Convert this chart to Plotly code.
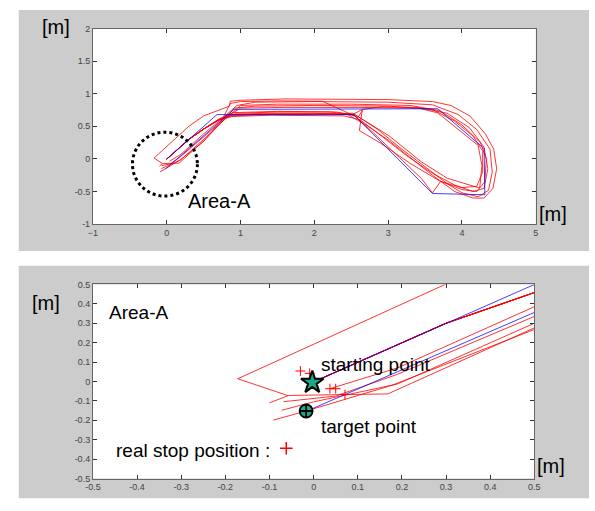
import plotly.graph_objects as go

# ---------------- data ----------------
blue_x = [-0.003, 0.68, 2.53, 3.60, 4.31, 4.30, 3.67, 0.91, -0.018]
blue_y = [-0.005, 0.68, 0.68, -0.53, -0.55, 0.16, 0.77, 0.76, -0.155]

run1_x = [-0.003, 0.30, 0.50, 0.70, 0.90, 1.30, 2.00, 2.45, 2.70, 3.00, 3.30, 3.60, 3.90, 4.15, 4.30, 4.42, 4.47, 4.43, 4.32, 4.11, 3.85, 3.60, 3.00, 2.35, 1.60, 1.00, 0.86, 0.85, 0.65, 0.50, 0.298, -0.172, -0.058, -0.100]
run1_y = [-0.005, 0.30, 0.458, 0.60, 0.68, 0.70, 0.70, 0.68, 0.52, 0.29, 0.02, -0.25, -0.50, -0.60, -0.60, -0.45, -0.15, 0.15, 0.38, 0.657, 0.82, 0.88, 0.91, 0.917, 0.92, 0.90, 0.885, 0.81, 0.73, 0.66, 0.50, 0.014, -0.073, -0.110]

run2_x = [-0.003, 0.30, 0.50, 0.72, 0.95, 1.50, 2.20, 2.55, 2.85, 3.15, 3.50, 3.80, 4.00, 4.22, 4.36, 4.41, 4.38, 4.20, 3.95, 3.60, 3.00, 2.00, 1.20, 0.95, 0.75, 0.50, 0.19, 0.06, 0.037]
run2_y = [-0.005, 0.30, 0.458, 0.61, 0.70, 0.72, 0.72, 0.68, 0.46, 0.18, -0.12, -0.38, -0.52, -0.58, -0.48, -0.20, 0.15, 0.45, 0.68, 0.83, 0.87, 0.88, 0.87, 0.82, 0.62, 0.385, 0.07, -0.02, -0.037]

run3_x = [-0.003, 0.30, 0.50, 0.68, 0.85, 1.30, 2.10, 2.52, 3.01, 3.45, 3.80, 4.11, 4.24, 4.27, 4.22, 3.89, 3.67, 3.41, 2.60, 1.60, 1.00, 0.82, 0.50, 0.19, 0.05, -0.068]
run3_y = [-0.005, 0.30, 0.458, 0.59, 0.66, 0.68, 0.69, 0.70, 0.356, -0.045, -0.296, -0.396, -0.447, -0.10, 0.206, 0.507, 0.707, 0.78, 0.79, 0.79, 0.78, 0.65, 0.335, 0.037, -0.075, -0.104]

run4_x = [-0.003, 0.30, 0.50, 0.70, 0.90, 1.40, 2.20, 2.52, 2.65, 2.61, 2.90, 3.30, 3.70, 4.00, 4.20, 4.31, 4.33, 4.25, 4.00, 3.70, 3.30, 2.50, 1.50, 1.00, 0.78, 0.50, 0.19, 0.00, -0.072]
run4_y = [-0.005, 0.30, 0.458, 0.60, 0.67, 0.69, 0.69, 0.68, 0.76, 0.435, 0.24, -0.07, -0.34, -0.47, -0.50, -0.35, 0.00, 0.25, 0.52, 0.74, 0.82, 0.84, 0.84, 0.82, 0.60, 0.30, -0.013, -0.105, -0.148]

run5_x = [-0.003, 0.30, 0.50, 0.72, 0.90, 1.50, 2.30, 2.55, 2.80, 3.15, 3.45, 3.60, 3.71, 4.00, 4.20, 4.28, 4.28, 4.15, 3.90, 3.60, 3.00, 2.00, 1.20, 0.92, 0.76, 0.50, 0.168, -0.058]
run5_y = [-0.005, 0.30, 0.458, 0.62, 0.71, 0.73, 0.72, 0.66, 0.40, 0.03, -0.30, -0.52, -0.346, -0.44, -0.42, -0.20, 0.12, 0.35, 0.58, 0.76, 0.81, 0.82, 0.81, 0.78, 0.58, 0.276, -0.064, -0.072]

run6_x = [-0.003, 0.30, 0.50, 0.70, 0.88, 1.40, 2.40, 2.62, 2.90, 3.25, 3.60, 3.90, 4.15, 4.30, 4.35, 4.30, 4.10, 3.80, 3.40, 2.90, 2.66, 2.59, 2.11, 1.50, 1.00, 0.86, 0.75, 0.50, 0.177, -0.014, -0.091]
run6_y = [-0.005, 0.30, 0.458, 0.59, 0.65, 0.67, 0.66, 0.60, 0.36, 0.05, -0.22, -0.40, -0.50, -0.45, -0.15, 0.18, 0.48, 0.70, 0.79, 0.80, 0.76, 0.635, 0.885, 0.89, 0.88, 0.85, 0.60, 0.268, -0.02, -0.15, -0.199]

runs = [(run1_x, run1_y), (run2_x, run2_y), (run3_x, run3_y),
        (run4_x, run4_y), (run5_x, run5_y), (run6_x, run6_y)]

stop_x = [-0.030, -0.009, 0.037, 0.050, 0.071]
stop_y = [0.054, 0.042, -0.037, -0.037, -0.067]

start_pt = (-0.003, -0.005)
target_pt = (-0.017, -0.152)
legend_plus = (-0.062, -0.344)

circle_x = [-0.465, 0.415]
circle_y = [-0.57, 0.41]

top_xticks = [-1, 0, 1, 2, 3, 4, 5]
top_yticks = [-1, -0.5, 0, 0.5, 1, 1.5, 2]
top_yticklabels = ["-1", "-0.5", "0", "0.5", "1", "1.5", "2"]
bot_ticks = [-0.5, -0.4, -0.3, -0.2, -0.1, 0, 0.1, 0.2, 0.3, 0.4, 0.5]
bot_ticklabels = ["-0.5", "-0.4", "-0.3", "-0.2", "-0.1", "0", "0.1", "0.2", "0.3", "0.4", "0.5"]

# ---------------- figure ----------------
W, H = 595, 511
def px(x): return x / W
def py(y): return 1 - y / H

RED = "rgba(255,0,0,0.8)"
BLUE = "rgba(0,0,255,0.75)"
TEAL = "#1aaa88"

fig = go.Figure()

for xa, ya in (("x", "y"), ("x2", "y2")):
    for rx, ry in runs:
        fig.add_trace(go.Scatter(x=rx, y=ry, mode="lines", xaxis=xa, yaxis=ya,
                                 line=dict(color=RED, width=1), showlegend=False,
                                 hoverinfo="skip"))
    fig.add_trace(go.Scatter(x=blue_x, y=blue_y, mode="lines", xaxis=xa, yaxis=ya,
                             line=dict(color=BLUE, width=1), showlegend=False,
                             hoverinfo="skip"))

fig.add_trace(go.Scatter(x=stop_x, y=stop_y, mode="markers", xaxis="x2", yaxis="y2",
                         marker=dict(symbol="cross-thin", size=7,
                                     line=dict(color="red", width=1)),
                         showlegend=False, hoverinfo="skip"))
fig.add_trace(go.Scatter(x=[legend_plus[0]], y=[legend_plus[1]], mode="markers",
                         xaxis="x2", yaxis="y2",
                         marker=dict(symbol="cross-thin", size=9,
                                     line=dict(color="red", width=1.5)),
                         showlegend=False, hoverinfo="skip"))
fig.add_trace(go.Scatter(x=[start_pt[0]], y=[start_pt[1]], mode="markers",
                         xaxis="x2", yaxis="y2",
                         marker=dict(symbol="star", size=17, color=TEAL,
                                     line=dict(color="black", width=2)),
                         showlegend=False, hoverinfo="skip"))
fig.add_trace(go.Scatter(x=[target_pt[0]], y=[target_pt[1]], mode="markers",
                         xaxis="x2", yaxis="y2",
                         marker=dict(symbol="circle-cross", size=13, color=TEAL,
                                     line=dict(color="black", width=1.8)),
                         showlegend=False, hoverinfo="skip"))

top_dom_x = [px(87), px(540.5)]
top_dom_y = [py(223.5), py(24)]
bot_dom_x = [px(87), px(539)]
bot_dom_y = [py(483), py(285)]

tickfont = dict(family="Liberation Sans, Arial", size=9, color="#444444")
axis_common = dict(showgrid=False, zeroline=False, showline=True, linecolor="#666666",
                   linewidth=1, mirror="allticks", ticks="inside", ticklen=4,
                   tickcolor="#333333", tickfont=tickfont, fixedrange=True)

fig.update_layout(
    width=W, height=H,
    margin=dict(l=0, r=0, t=0, b=0),
    paper_bgcolor="white", plot_bgcolor="white",
    hovermode=False,
    xaxis=dict(domain=top_dom_x, range=[-1, 5], tickvals=top_xticks,
               anchor="y", **axis_common),
    yaxis=dict(domain=top_dom_y, range=[-1, 2], tickvals=top_yticks,
               ticktext=top_yticklabels, anchor="x", **axis_common),
    xaxis2=dict(domain=bot_dom_x, range=[-0.5, 0.5], tickvals=bot_ticks,
                ticktext=bot_ticklabels, anchor="y2", **axis_common),
    yaxis2=dict(domain=bot_dom_y, range=[-0.5, 0.5], tickvals=bot_ticks,
                ticktext=bot_ticklabels, anchor="x2", **axis_common),
)

shapes = [
    dict(type="rect", xref="paper", yref="paper", x0=px(11), x1=px(595), y0=py(251), y1=py(5),
         fillcolor="#cccccc", line=dict(width=0), layer="below"),
    dict(type="rect", xref="paper", yref="paper", x0=px(11), x1=px(595), y0=py(503), y1=py(266),
         fillcolor="#cccccc", line=dict(width=0), layer="below"),
    dict(type="rect", xref="paper", yref="paper", x0=top_dom_x[0], x1=top_dom_x[1],
         y0=top_dom_y[0], y1=top_dom_y[1], fillcolor="white", line=dict(width=0), layer="below"),
    dict(type="rect", xref="paper", yref="paper", x0=bot_dom_x[0], x1=bot_dom_x[1],
         y0=bot_dom_y[0], y1=bot_dom_y[1], fillcolor="white", line=dict(width=0), layer="below"),
    dict(type="circle", xref="x", yref="y", x0=circle_x[0], x1=circle_x[1],
         y0=circle_y[0], y1=circle_y[1], line=dict(color="black", width=3, dash="dot")),
]
fig.update_layout(shapes=shapes)

txtfont = dict(family="Liberation Sans, Arial", color="black")
def ann(text, x, y, size):
    return dict(text=text, xref="paper", yref="paper", x=px(x), y=py(y),
                xanchor="center", yanchor="middle", showarrow=False,
                font=dict(size=size, **txtfont))

fig.update_layout(annotations=[
    ann("[m]", 49, 22, 20),
    ann("[m]", 558, 213, 20),
    ann("Area-A", 217, 200, 20),
    ann("[m]", 39, 304, 20),
    ann("[m]", 556, 470, 20),
    ann("Area-A", 134, 314, 19),
    ann("starting point", 377, 367, 19),
    ann("target point", 370, 430, 19),
    ann("real stop position :", 189, 454, 19),
])

post = """
document.documentElement.style.margin='0';
document.body.style.margin='0';
document.body.style.overflow='hidden';
"""
fig.write_html("out.html", config={"displayModeBar": False}, post_script=post)
